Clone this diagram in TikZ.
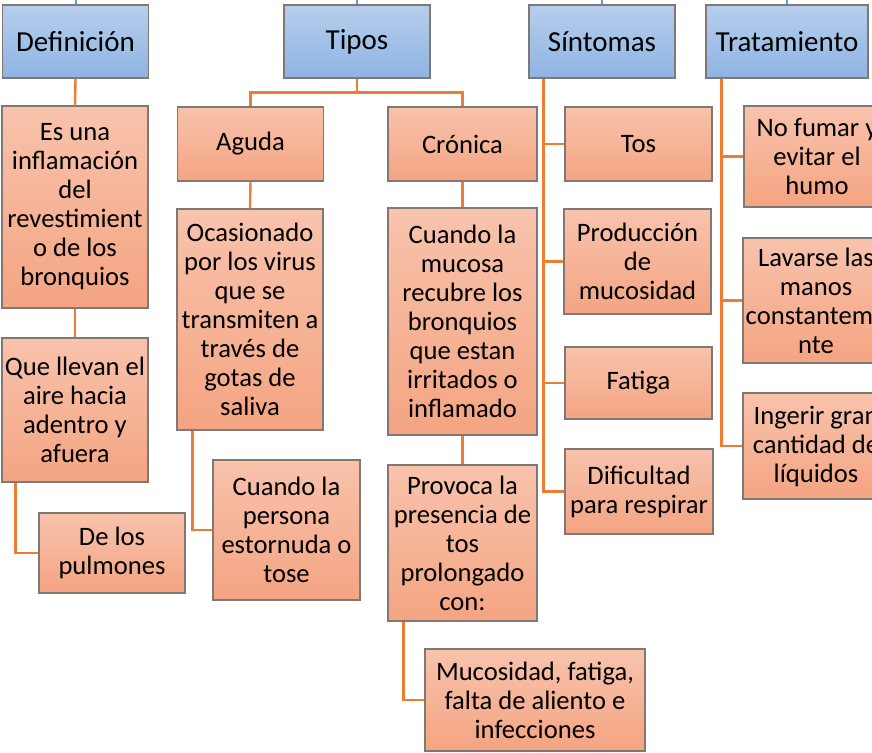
\documentclass[tikz,border=0pt]{standalone}
\usepackage{fontspec}
\setmainfont{Carlito}
\definecolor{hdtop}{RGB}{182,206,236}
\definecolor{hdbot}{RGB}{142,180,227}
\definecolor{chtop}{RGB}{248,195,172}
\definecolor{chbot}{RGB}{244,164,130}
\definecolor{edge}{RGB}{130,120,115}
\definecolor{ornline}{RGB}{237,125,49}
\definecolor{blueline}{RGB}{91,155,213}
\begin{document}
\begin{tikzpicture}[x=1pt,y=-1pt,
    head/.style={draw=edge, line width=1.2pt, top color=hdtop, bottom color=hdbot, minimum width=146pt, minimum height=73pt, align=center, inner sep=0pt, font=\fontsize{29}{33}\selectfont},
    item/.style={draw=edge, line width=1.2pt, top color=chtop, bottom color=chbot, minimum width=146pt, align=center, inner sep=0pt, font=\fontsize{26.6}{29}\selectfont},
    link/.style={ornline, line width=2.4pt},
    uplink/.style={blueline, line width=2pt}]
    \useasboundingbox (0,0) rectangle (872,752);
    \clip (0,0) rectangle (872,752);
    % main headings
    \node [head] (def) at (75.5,41.5) {Definición};
    \node [head] (tip) at (357,41.5) {Tipos};
    \node [head] (sin) at (602,41.5) {Síntomas};
    \node [head, minimum width=162pt] (tra) at (787,41.5) {Tratamiento};
    \coordinate (top) at (0,-5);
    \foreach \h in {def,tip,sin,tra}
        \draw [uplink] (\h.north) -- (\h.north |- top);
    % definicion
    \node [item, minimum height=202pt] (esuna) at (75,207) {Es una\\inflamación\\del\\revestimient\\o de los\\bronquios};
    \node [item, minimum height=144pt] (llevan) at (75,410) {Que llevan el\\aire hacia\\adentro y\\afuera};
    \node [item, minimum height=80pt] (pulm) at (112,553) {De los\\pulmones};
    \draw [link] (def.south) -- (esuna.north);
    \draw [link] (esuna.south) -- (llevan.north);
    \draw [link] ([xshift=14pt]llevan.south west) |- (pulm.west);
    % tipos
    \node [item, minimum height=74pt] (aguda) at (250.5,144) {Aguda};
    \node [item, minimum height=74pt, minimum width=149pt] (cron) at (462.5,144) {Crónica};
    \node [item, minimum height=221pt] (ocas) at (250,319.5) {Ocasionado\\por los virus\\que se\\transmiten a\\través de\\gotas de\\saliva};
    \node [item, minimum height=140pt, minimum width=147pt] (pers) at (286.5,530) {Cuando la\\persona\\estornuda o\\tose};
    \node [item, minimum height=227pt, minimum width=149pt] (muco) at (462.5,321.5) {Cuando la\\mucosa\\recubre los\\bronquios\\que estan\\irritados o\\inflamado};
    \node [item, minimum height=156pt, minimum width=149pt] (prov) at (462.5,543) {Provoca la\\presencia de\\tos\\prolongado\\con:};
    \node [item, minimum height=102pt, minimum width=220pt] (mfat) at (535,700) {Mucosidad, fatiga,\\falta de aliento e\\infecciones};
    \draw [link] (tip.south) -- ++(0,14) coordinate (fork) -| (aguda.north);
    \draw [link] (fork) -| (cron.north);
    \draw [link] (aguda.south) -- (ocas.north);
    \draw [link] ([xshift=16pt]ocas.south west) |- (pers.west);
    \draw [link] (cron.south) -- (muco.north);
    \draw [link] (muco.south) -- (prov.north);
    \draw [link] ([xshift=16pt]prov.south west) |- (mfat.west);
    % sintomas
    \node [item, minimum height=74pt, minimum width=147pt] (tos) at (638.5,144) {Tos};
    \node [item, minimum height=105pt, minimum width=147pt] (prod) at (637.5,261.5) {Producción\\de\\mucosidad};
    \node [item, minimum height=72pt, minimum width=147pt] (fati) at (638.5,383) {Fatiga};
    \node [item, minimum height=85pt, minimum width=148pt] (difi) at (639,491.5) {Dificultad\\para respirar};
    \coordinate (sline) at ([xshift=15pt]sin.south west);
    \draw [link] (sline) |- (difi.west);
    \foreach \n in {tos,prod,fati}
        \draw [link] (\n.west) -- (\n.west -| sline);
    % tratamiento
    \node [item, minimum height=101pt] (fuma) at (817,156.5) {No fumar y\\evitar el\\humo};
    \node [item, minimum height=125pt] (lava) at (816,300.5) {Lavarse las\\manos\\constanteme\\nte};
    \node [item, minimum height=106pt] (inge) at (816,446) {Ingerir gran\\cantidad de\\líquidos};
    \coordinate (tline) at ([xshift=16pt]tra.south west);
    \draw [link] (tline) |- (inge.west);
    \foreach \n in {fuma,lava}
        \draw [link] (\n.west) -- (\n.west -| tline);
\end{tikzpicture}
\end{document}
